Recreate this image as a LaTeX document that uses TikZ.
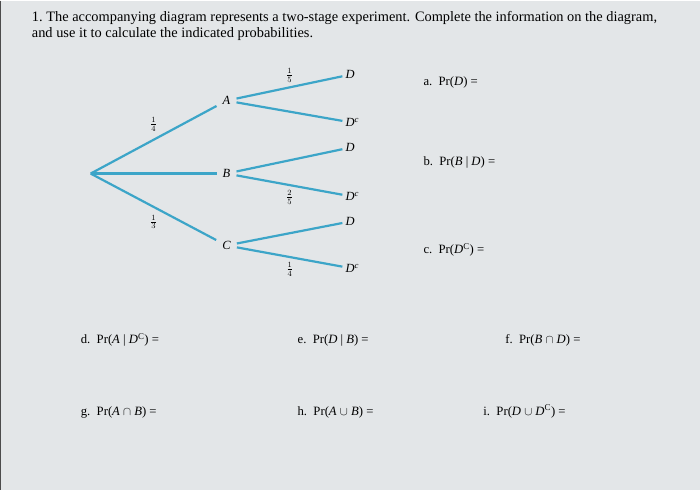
\documentclass[tikz,border=0pt]{standalone}
\usepackage{fontspec}
\setmainfont{Liberation Serif}
\usetikzlibrary{positioning}
\definecolor{branch}{RGB}{60,165,200}
\definecolor{paper}{RGB}{227,230,232}
\tikzset{
x=1pt, y=-1pt, % one unit is one pixel of the page, y runs downwards
every edge/.style={draw=branch, line width=2.2pt}, % the branches of the tree
event/.style={inner sep=6pt, font=\fontsize{12.5}{14}\selectfont\itshape}, % first stage: A, B, C
outcome/.style={anchor=west, inner sep=3pt, font=\fontsize{12.5}{14}\selectfont\itshape}, % second stage: D, D^c
prob/.style={inner sep=1pt, font=\fontsize{12}{14}\selectfont}, % probabilities on the branches
question/.style={anchor=base west, inner sep=0pt, font=\fontsize{12.7}{15}\selectfont}, % the parts a. to i.
}

\begin{document}
\begin{tikzpicture}
        \fill[paper] (0,0) rectangle (700,490);
        \draw[black!70, line width=1.5pt] (0,0) -- (0,490);

        \node[anchor=north west, inner sep=0pt, align=left, font=\fontsize{14.4}{16}\selectfont] (title) at (31,10)
            {1.~The accompanying diagram represents a two-stage experiment. Complete the information on the diagram,\\
             and use it to calculate the indicated probabilities.};

        % the tree
        \coordinate (root) at (90,173);
        \node[event] (A) at (226,100) {A};
        \node[event] (B) at (226,173) {B};
        \node[event] (C) at (226,245) {C};

        \node[outcome] (AD)  at (342,74)  {D};
        \node[outcome] (ADc) at (342,122) {D\textsuperscript{c}};
        \node[outcome] (BD)  at (342,147) {D};
        \node[outcome] (BDc) at (342,196) {D\textsuperscript{c}};
        \node[outcome] (CD)  at (342,221) {D};
        \node[outcome] (CDc) at (342,268) {D\textsuperscript{c}};

        \draw (root) edge node[prob, above=6pt] {$\frac{1}{4}$} (A)
              (root) edge (B)
              (root) edge node[prob, below=6pt] {$\frac{1}{3}$} (C)

              (A) edge node[prob, above=3pt] {$\frac{1}{5}$} (AD)
              (A) edge (ADc)
              (B) edge (BD)
              (B) edge node[prob, below=3pt] {$\frac{2}{5}$} (BDc)
              (C) edge (CD)
              (C) edge node[prob, below=3pt] {$\frac{1}{4}$} (CDc);

        % the questions
        \node[question] (qa) at (423,85)  {a.\ \ Pr(\textit{D}) =};
        \node[question] (qb) at (423,165) {b.\ \ Pr(\textit{B} | \textit{D}) =};
        \node[question] (qc) at (423,253) {c.\ \ Pr(\textit{D}\textsuperscript{C}) =};
        \node[question] (qd) at (80,343)  {d.\ \ Pr(\textit{A} | \textit{D}\textsuperscript{C}) =};
        \node[question] (qe) at (297,343) {e.\ \ Pr(\textit{D} | \textit{B}) =};
        \node[question] (qf) at (505,343) {f.\ \ Pr(\textit{B} $\cap$ \textit{D}) =};
        \node[question] (qg) at (80,415)  {g.\ \ Pr(\textit{A} $\cap$ \textit{B}) =};
        \node[question] (qh) at (297,415) {h.\ \ Pr(\textit{A} $\cup$ \textit{B}) =};
        \node[question] (qi) at (483,415) {i.\ \ Pr(\textit{D} $\cup$ \textit{D}\textsuperscript{C}) =};
\end{tikzpicture}
\end{document}
